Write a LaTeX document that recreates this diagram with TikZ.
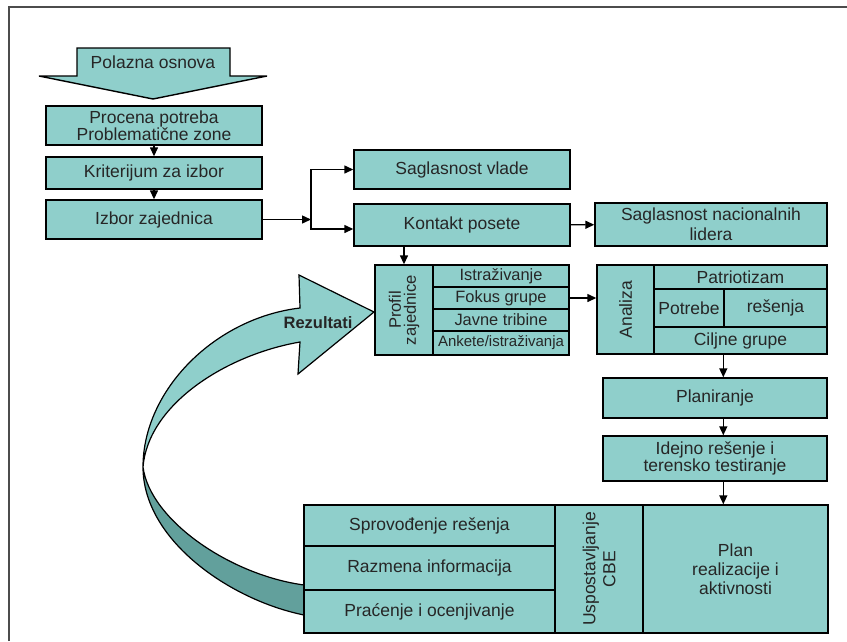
\documentclass[tikz,border=0pt]{standalone}
\usepackage{fontspec}
\setmainfont{Liberation Sans}
\usetikzlibrary{arrows.meta}
\definecolor{svetla}{RGB}{143,207,203}
\definecolor{tamna}{RGB}{98,160,156}

\begin{document}
\begin{tikzpicture}[x=1pt,y=-1pt,
    kutija/.style={draw=black,line width=1.4pt,fill=svetla,inner sep=0pt,align=center,
      text=black!85,font=\fontsize{17.5}{17}\selectfont},
    mala/.style={kutija,font=\fontsize{16.4}{16}\selectfont},
    strelica/.style={line width=1.4pt,-{Triangle[length=9pt,width=8pt]}}]
    \useasboundingbox (0,0) rectangle (847,641);
    % okvir
    \draw [line width=2pt,black!70] (9,641) -- (9,7) -- (847,7);
    % rezultati (povratna strelica)
    \filldraw [fill=tamna,line width=1.2pt] (143,467) .. controls (143,540) and (230,600) .. (304,615)
      -- (304,585) .. controls (230,575) and (150,520) .. (143,467) -- cycle;
    \filldraw [fill=svetla,line width=1.2pt] (143,467) .. controls (143,390) and (215,318) .. (300,308)
      -- (299,275) -- (374,312) -- (298,374) -- (300,342)
      .. controls (225,355) and (148,405) .. (143,467) -- cycle;
    \node [font=\fontsize{16.5}{17}\selectfont\bfseries,text=black!85] (rezultati) at (318,323) {Rezultati};
    % polazna osnova
    \filldraw [fill=svetla,line width=1.4pt] (77,48) -- (230,48) -- (230,76) -- (267,76) -- (153,99)
      -- (39,76) -- (77,76) -- cycle;
    \node [text=black!85,font=\fontsize{17.5}{17}\selectfont] (polazna) at (153,62) {Polazna osnova};
    % leva kolona
    \node [kutija,minimum width=216,minimum height=39] (procena) at (154,125.5) {Procena potreba\\Problematične zone};
    \node [kutija,minimum width=216,minimum height=32] (kriterij) at (154,173) {Kriterijum za izbor};
    \node [kutija,minimum width=216,minimum height=39] (izbor) at (154,219.5) {Izbor zajednica};
    \draw [strelica] (procena) -- (kriterij);
    \draw [strelica] (kriterij) -- (izbor);
    % grananje
    \coordinate (cvor) at (311,219.5);
    \node [kutija,minimum width=216,minimum height=39] (vlade) at (462,169.5) {Saglasnost vlade};
    \node [kutija,minimum width=216,minimum height=42] (kontakt) at (462,225) {Kontakt posete};
    \node [kutija,minimum width=232,minimum height=43,font=\fontsize{17.5}{20}\selectfont] (lideri) at (711,224.5)
      {Saglasnost nacionalnih\\lidera};
    \draw [strelica] (izbor.east) -- (cvor);
    \draw [strelica] (cvor) |- (vlade.west);
    \draw [strelica] (cvor) |- ([yshift=-4pt]kontakt.west);
    \draw [strelica] (kontakt) -- (lideri);
    % profil zajednice
    \node [kutija,rotate=90,minimum width=90,minimum height=58,font=\fontsize{16.6}{15}\selectfont] (profil) at (404,310)
      {Profil\\zajednice};
    \node [mala,minimum width=136,minimum height=22] (istr) at (501,276) {Istraživanje};
    \node [mala,minimum width=136,minimum height=22] (fokus) at (501,298) {Fokus grupe};
    \node [mala,minimum width=136,minimum height=22] (tribine) at (501,320) {Javne tribine};
    \node [kutija,minimum width=136,minimum height=24,font=\fontsize{15}{15}\selectfont] (ankete) at (501,343)
      {Ankete/istraživanja};
    \draw [strelica] (kontakt.south -| profil.center) -- (profil.east);
    % analiza
    \node [kutija,rotate=90,minimum width=89,minimum height=57] (analiza) at (625.5,309.5) {Analiza};
    \node [kutija,minimum width=173,minimum height=24] (patr) at (740.5,277) {Patriotizam};
    \node [kutija,minimum width=70,minimum height=38] (potrebe) at (689,308) {Potrebe};
    \node [kutija,minimum width=103,minimum height=38] (resenja) at (775.5,308) {rešenja};
    \node [kutija,minimum width=173,minimum height=27] (ciljne) at (740.5,340.5) {Ciljne grupe};
    \draw [strelica] (fokus.east) -- (fokus.east -| analiza.north);
    % planiranje
    \node [kutija,minimum width=224,minimum height=40] (planiranje) at (715,398) {Planiranje};
    \node [kutija,minimum width=224,minimum height=45] (idejno) at (715,458.5) {Idejno rešenje i\\terensko testiranje};
    \draw [strelica] (ciljne.south -| resenja.west) -- (planiranje.north -| resenja.west);
    \draw [strelica] (planiranje.south -| resenja.west) -- (idejno.north -| resenja.west);
    % sprovodjenje
    \node [kutija,minimum width=251,minimum height=41] (sprov) at (429.5,525.5) {Sprovođenje rešenja};
    \node [kutija,minimum width=251,minimum height=44] (razmena) at (429.5,568) {Razmena informacija};
    \node [kutija,minimum width=251,minimum height=43] (pracenje) at (429.5,611.5) {Praćenje i ocenjivanje};
    \node [kutija,rotate=90,minimum width=128,minimum height=88,font=\fontsize{17.5}{20}\selectfont] (usp) at (599,569)
      {Uspostavljanje\\CBE};
    \node [kutija,minimum width=185,minimum height=128,font=\fontsize{17.5}{19}\selectfont] (plan) at (735.5,569)
      {Plan\\realizacije i\\aktivnosti};
    \draw [strelica] (idejno.south -| resenja.west) -- (plan.north -| resenja.west);
\end{tikzpicture}
\end{document}
